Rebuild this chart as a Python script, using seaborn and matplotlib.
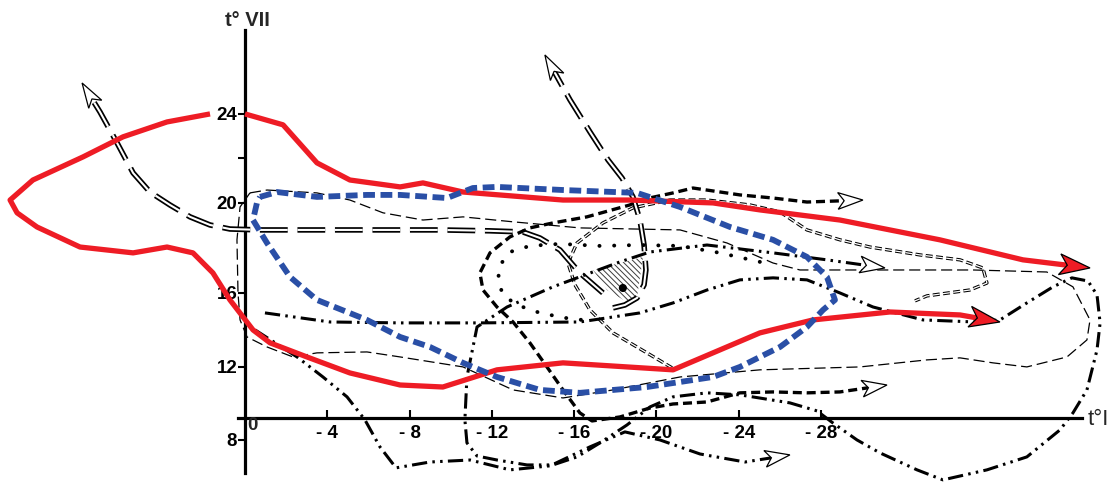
import numpy as np
import matplotlib
matplotlib.use("Agg")
import matplotlib.pyplot as plt
from matplotlib.patches import Polygon
import seaborn as sns

# ---- trajectories in (t°I, t°VII) space, °C ----
red_top_x = [0.0, -1.85, -3.50, -5.10, -7.54, -8.65, -10.60, -15.46, -18.71, -22.75,
             -25.03, -28.92, -33.78, -37.82, -41.08]
red_top_y = [24.0, 23.51, 21.80, 21.03, 20.72, 20.90, 20.49, 20.13, 20.13, 20.0,
             19.69, 19.24, 18.36, 17.47, 17.11]

red_loop_x = [1.70, 3.79, 5.93, 7.87, 10.31, 11.42, 11.08, 10.11, 8.02, 5.44, 3.79, 2.53,
              1.56, 0.73, -0.39, -1.22, -3.01, -5.10, -7.54, -9.62, -12.25, -15.46, -20.81,
              -22.75, -25.03, -27.61, -31.35, -34.76, -36.70]
red_loop_y = [24.0, 23.64, 22.97, 22.07, 21.03, 20.13, 19.56, 18.93, 18.04, 17.78, 18.04, 17.78,
              16.89, 15.62, 14.0, 13.30, 12.54, 11.67, 11.01, 10.90, 11.84, 12.22, 11.84,
              12.76, 13.84, 14.54, 14.97, 14.81, 14.43]

blue_x = [-0.73, -1.56, -3.50, -5.93, -7.54, -9.82, -11.08, -12.25, -15.46, -19.06,
          -21.15, -23.58, -25.67, -27.32, -28.29, -28.68, -28.10, -27.32, -26.01, -24.06,
          -22.75, -19.54, -16.28, -14.34, -12.25, -10.60, -8.99, -7.54, -5.93, -3.50,
          -2.19, -1.07, -0.39, -0.58, -0.73]
blue_y = [20.27, 20.49, 20.27, 20.36, 20.36, 20.22, 20.67, 20.72, 20.58, 20.45,
          19.82, 18.93, 18.36, 17.60, 16.71, 15.62, 15.08, 14.16, 13.08, 12.0,
          11.45, 10.90, 10.58, 10.74, 11.45, 12.22, 13.08, 13.62, 14.54, 15.62,
          16.71, 18.22, 19.24, 20.0, 20.27]

thin_x = [-0.24, -1.07, -3.50, -5.10, -6.71, -8.65, -10.60, -13.03, -16.28, -21.15,
          -23.43, -25.67, -26.98, -30.53, -35.39, -38.98, -40.25, -41.08, -40.93, -39.96,
          -38.01, -36.36, -34.76, -33.15, -29.90, -25.03, -21.15, -17.89, -15.46, -13.03,
          -10.60, -7.54, -5.93, -3.50, -2.33, -1.07, -0.10, 0.24, 0.34, 0.39, 0.24, -0.24]
thin_y = [20.45, 20.58, 20.45, 20.13, 19.56, 19.24, 19.38, 19.16, 18.89, 18.80,
          18.22, 17.33, 17.02, 17.02, 17.02, 16.93, 16.27, 14.54, 13.46, 12.54,
          12.0, 12.22, 12.49, 12.38, 12.0, 11.84, 11.45, 10.74, 10.30, 10.74,
          12.0, 12.54, 12.81, 12.76, 12.54, 13.08, 13.62, 14.54, 16.0, 18.36, 19.82, 20.45]

rail_w_x = [-17.40, -16.28, -15.31, -14.34, -13.51, -11.91, -9.48, -6.56, -3.65, -0.73,
            0.73, 1.70, 2.67, 3.65, 4.62, 5.44, 6.22, 7.05, 7.92]
rail_w_y = [16.0, 16.89, 17.91, 18.44, 18.71, 18.76, 18.80, 18.80, 18.80, 18.80,
            18.84, 19.02, 19.38, 19.91, 20.49, 21.35, 22.70, 24.09, 25.39]

rail_n_x = [-17.89, -18.47, -19.06, -19.40, -19.49, -19.40, -19.20, -18.86, -18.33,
            -17.65, -16.77, -15.80, -14.58]
rail_n_y = [15.19, 15.35, 15.73, 16.36, 17.02, 18.13, 19.24, 20.27, 21.12,
            21.93, 23.19, 24.63, 26.65]

twin_x = [-20.76, -19.54, -17.89, -16.77, -16.04, -15.70, -16.14, -17.40, -18.86, -20.66,
          -22.46, -24.55, -26.01, -27.32, -28.92, -30.38, -32.81, -34.76, -35.87, -36.07,
          -35.24, -33.15, -32.57]
twin_y = [11.95, 12.76, 13.84, 15.08, 16.36, 17.33, 18.22, 19.11, 19.78, 20.13,
          20.13, 19.91, 19.60, 18.80, 18.36, 18.04, 17.69, 17.47, 17.11, 16.44,
          16.13, 15.84, 15.57]

short_x = [-30.04, -27.32, -25.67, -24.06, -21.78, -20.81, -19.20, -18.71, -16.62, -14.97,
           -13.85, -12.88, -11.91, -11.42, -11.57, -12.25, -13.03, -13.85, -14.68, -15.46,
           -16.28, -16.87, -18.23, -19.69, -20.81, -22.46, -24.06, -25.67, -27.32, -28.92,
           -31.21]
short_y = [20.13, 20.04, 20.22, 20.36, 20.67, 20.45, 20.13, 19.91, 19.38, 19.11,
           18.89, 18.49, 17.78, 16.89, 16.13, 15.24, 14.43, 13.30, 12.0, 10.74,
           9.48, 9.04, 9.26, 9.75, 9.97, 10.08, 10.58, 10.63, 10.58, 10.63, 11.01]

dots_x = [-25.03, -23.09, -21.15, -19.20, -17.26, -15.31, -13.85, -12.88, -12.40, -12.30,
          -12.54, -13.22, -14.34, -15.56, -16.77]
dots_y = [17.38, 17.78, 18.09, 18.13, 18.09, 18.18, 18.09, 17.82, 17.24, 16.58,
          15.89, 15.35, 14.92, 14.65, 14.49]

loop_x = [-0.97, -4.13, -7.54, -11.42, -16.28, -19.20, -20.81, -22.46, -24.06, -25.67,
          -27.32, -28.92, -30.53, -32.96, -35.49, -36.70, -38.01, -39.28, -40.20, -40.98,
          -41.42, -41.57, -41.42, -40.93, -40.25, -39.62, -38.01, -36.07, -33.93, -32.67,
          -30.87, -29.75, -28.58, -27.81, -26.49, -24.06, -22.46, -20.81, -19.69, -18.57,
          -17.26, -16.14, -14.97, -13.71, -12.25, -11.28, -10.79, -10.69, -10.79, -11.28,
          -12.74, -14.97, -18.23, -19.69, -22.46, -25.67, -28.29, -31.11]
loop_y = [14.92, 14.43, 14.38, 14.38, 14.43, 14.92, 15.46, 16.13, 16.58, 16.67,
          16.58, 16.0, 15.24, 14.54, 14.43, 14.54, 15.46, 16.27, 16.67, 16.53,
          15.89, 14.38, 12.92, 10.74, 9.48, 8.55, 7.07, 6.36, 5.81, 6.36,
          7.29, 8.0, 8.93, 9.59, 10.03, 10.47, 10.58, 10.36, 9.81, 8.82,
          7.84, 7.07, 6.63, 6.63, 6.90, 7.12, 7.84, 9.10, 11.45, 14.16,
          15.24, 16.27, 17.38, 17.82, 18.13, 17.78, 17.47, 17.11]

tail_x = [-0.49, -2.53, -3.79, -4.96, -5.83, -6.56, -7.34, -8.99, -10.94, -12.88,
          -14.83, -16.77, -18.47, -20.17, -22.12, -24.31, -26.49]
tail_y = [14.0, 12.54, 11.45, 10.36, 9.10, 7.62, 6.47, 6.79, 6.90, 6.36,
          6.58, 7.62, 8.44, 8.0, 7.23, 6.79, 7.18]

spot_x = [-16.92, -19.35, -19.06, -18.57, -17.60]
spot_y = [17.02, 17.60, 15.78, 15.51, 16.13]
station_x = [-18.37]
station_y = [16.22]

x_ticks = [-4, -8, -12, -16, -20, -24, -28]
x_labels = ["- 4", "- 8", "- 12", "- 16", "- 20", "- 24", "- 28"]
y_ticks = [8, 12, 16, 20, 24]
y_labels = ["8", "12", "16", "20", "24"]

# ---- figure ----
sns.set_theme(style="white")
plt.rcParams["font.family"] = ["Liberation Sans", "DejaVu Sans"]
plt.rcParams["lines.scale_dashes"] = False
plt.rcParams["hatch.linewidth"] = 0.7

DPI = 100
fig = plt.figure(figsize=(11.11, 4.83), dpi=DPI, facecolor="white")
ax = fig.add_axes([0, 0, 1, 1])
ax.set_facecolor("white")

# the July axis is drawn with uneven steps between its marks
Y_MARKS = [0, 8, 12, 16, 20, 24, 34]
Y_STEPS = [0, 146, 219, 293, 383, 472, 694.5]


def y_fwd(v):
    return np.interp(v, Y_MARKS, Y_STEPS)


def y_inv(u):
    return np.interp(u, Y_STEPS, Y_MARKS)


ax.set_yscale("function", functions=(y_fwd, y_inv))
ax.set_xlim(11.91, -42.1)
ax.set_ylim(5.64, 29.12)
ax.set_autoscale_on(False)


def head(xs, ys, length, width, face):
    """Arrowhead at the last point; returns the line shortened into the head."""
    tip = ax.transData.transform((xs[-1], ys[-1]))
    prev = ax.transData.transform((xs[-2], ys[-2]))
    d = tip - prev
    u = d / np.hypot(*d)
    n = np.array([-u[1], u[0]])
    L = length * DPI / 72
    W = width * DPI / 72
    base = tip - u * L
    pts = np.vstack([tip, base + n * W / 2, base + u * L * 0.25, base - n * W / 2])
    pts = ax.transData.inverted().transform(pts)
    ax.add_patch(Polygon(pts, closed=True, facecolor=face, edgecolor="black",
                         linewidth=0.9, zorder=8, joinstyle="miter"))
    end = ax.transData.inverted().transform(base + u * L * 0.35)
    return list(xs[:-1]) + [end[0]], list(ys[:-1]) + [end[1]]


def draw(xs, ys, color="black", lw=1.5, dashes=None, cap="butt", z=3):
    sns.lineplot(x=xs, y=ys, sort=False, estimator=None, color=color,
                 linewidth=lw, zorder=z, ax=ax)
    line = ax.lines[-1]
    if dashes is not None:
        line.set_dashes(dashes)
    line.set_dash_capstyle(cap)
    line.set_solid_capstyle(cap)
    line.set_solid_joinstyle("round")
    line.set_dash_joinstyle("round")


def draw_double(xs, ys, outer, inner, dashes, z=3):
    draw(xs, ys, "black", outer, dashes, z=z)
    draw(xs, ys, "white", inner, dashes, z=z + 0.05)


# hatched core and its station
ax.fill(spot_x, spot_y, facecolor="none", edgecolor="#3c3c3c", hatch="\\" * 6,
        linewidth=0, zorder=2)
sns.scatterplot(x=station_x, y=station_y, color="black", s=34, edgecolor="none",
                zorder=7, ax=ax)

# thin dashed envelope
draw(thin_x, thin_y, "black", 0.9, (8, 3.5), z=2.5)

# thin double dashed trace
draw_double(twin_x, twin_y, 2.4, 0.9, (5, 2.4), z=2.6)

# double long-dashed traces
wx, wy = head(rail_w_x, rail_w_y, 18, 11, "white")
draw_double(wx, wy, 4.0, 1.5, (20, 7), z=3)
nx, ny = head(rail_n_x, rail_n_y, 18, 11, "white")
draw_double(nx, ny, 4.0, 1.5, (20, 7), z=3)

# short-dashed trace with heads at both ends
sx, sy = head(short_x, short_y, 18, 12, "white")
sx, sy = head(sx[::-1], sy[::-1], 18, 12, "white")
draw(sx, sy, "black", 2.4, (6.5, 3.5), z=3.2)

# dotted trace
draw(dots_x, dots_y, "black", 2.8, (0.1, 10.5), cap="round", z=3.2)

# dash-dot-dot traces
ddd = (11, 3.8, 1.8, 3.8, 1.8, 3.8)
lx, ly = head(loop_x, loop_y, 18, 12, "white")
draw(lx, ly, "black", 2.2, ddd, z=3.3)
tx, ty = head(tail_x, tail_y, 18, 12, "white")
draw(tx, ty, "black", 2.2, ddd, z=3.3)

# red trajectories
rx, ry = head(red_top_x, red_top_y, 22, 15, "#ee1c25")
draw(rx, ry, "#ee1c25", 3.8, z=5)
rx, ry = head(red_loop_x, red_loop_y, 22, 15, "#ee1c25")
draw(rx, ry, "#ee1c25", 3.8, z=5)

# blue envelope
draw(blue_x, blue_y, "#2a4fa6", 4.2, (8.5, 4), z=5.5)

# ---- axes drawn through the origin ----
for side in ("top", "right"):
    ax.spines[side].set_visible(False)
ax.spines["left"].set_position(("data", 0.0))
ax.spines["left"].set_bounds(6.19, 27.78)
ax.spines["bottom"].set_position(("data", 9.21))
ax.spines["bottom"].set_bounds(-40.7, 0.35)
for side in ("left", "bottom"):
    ax.spines[side].set_color("black")
    ax.spines[side].set_linewidth(2.3)
    ax.spines[side].set_zorder(2)

ax.set_xticks(x_ticks)
ax.set_xticklabels(x_labels, fontweight="bold")
ax.set_yticks(y_ticks)
ax.set_yticklabels(y_labels, fontweight="bold")
ax.set_yticks([22], labels=[""], minor=True)
ax.tick_params(axis="x", which="major", bottom=True, direction="in", length=6,
               width=1.5, pad=5, labelsize=13.5, colors="black")
ax.tick_params(axis="y", which="both", left=True, direction="out", length=5,
               width=1.5, pad=0.5, labelsize=13.5, colors="black")
ax.set_xlabel("")
ax.set_ylabel("")
ax.grid(False)

ax.text(-0.34, 8.77, "0", ha="center", va="center", fontsize=13.5, fontweight="bold")
ax.text(-0.1, 28.22, "t° VII", ha="center", va="center", fontsize=14.5,
        fontweight="bold")
ax.text(-41.5, 9.10, "t°I", ha="center", va="center", fontsize=16)

ax.set_xlim(11.91, -42.1)
ax.set_ylim(5.64, 29.12)
fig.savefig("out.png", dpi=DPI, facecolor="white")
